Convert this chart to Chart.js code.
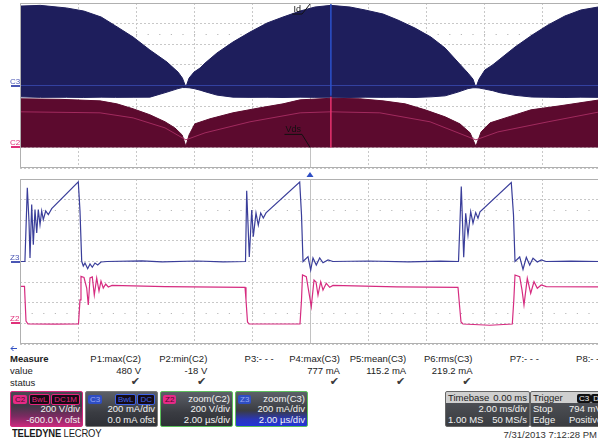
<!DOCTYPE html>
<html>
<head>
<meta charset="utf-8">
<script src="https://cdn.jsdelivr.net/npm/chart.js@4/dist/chart.umd.min.js"></script>
<style>
  html, body { margin: 0; padding: 0; background: #fff; overflow: hidden; }
  #wrap { position: relative; width: 598px; height: 442px; overflow: hidden;
          font-family: "Liberation Sans", Arial, sans-serif; color: #222; }
  canvas { position: absolute; left: 0; }
  #ov { top: 0; }
  #zm { top: 172px; }
  .t { position: absolute; font-size: 9.5px; line-height: 11px; white-space: nowrap; }
  .r { text-align: right; }
  .b { font-weight: bold; }
  .box { position: absolute; top: 391px; height: 34px; width: 71px; border: 1px solid #777;
         border-radius: 2px; overflow: hidden; color: #f2f2f2; font-size: 9.5px; }
  .box .row { position: absolute; left: 2px; right: 2px; height: 11px; line-height: 11px; white-space: nowrap; }
  .badge { display: inline-block; font-size: 8px; line-height: 9px; padding: 0 2px; border-radius: 2px; }
  .sp { position: absolute; right: 0; }
  .lf { position: absolute; left: 0; }
</style>
</head>
<body>
<div id="wrap">
  <canvas id="ov" width="602" height="172"></canvas>
  <canvas id="zm" width="602" height="180"></canvas>
  <div id="panel"></div>
</div>
<script>
// ---- Overview acquisition, 2 ms/div (time in ms) ----
// Id (C3) envelope, mA
const ovTimeId = [-10, -9.3, -8.4, -7.8, -7.2, -6.7, -6.1, -5.52, -4.93, -4.55, -4.4, -4.28, -4.17, -4.0,
  -3.79, -3.62, -3.21, -2.66, -2.07, -1.48, -0.93, -0.34, 0.17, 0.72, 1.38, 1.9, 2.52, 3.03, 3.62, 4.17,
  4.66, 5.1, 5.45, 5.62, 5.72, 5.83, 6.03, 6.3, 6.55, 7.07, 7.66, 8.21, 8.79, 9.34, 9.93, 10];
const ovIdHigh = [770, 777, 752, 722, 664, 577, 470, 344, 227, 130, 72, -16, 72, 130,
  170, 217, 315, 421, 518, 606, 664, 722, 761, 777, 761, 732, 693, 635, 557, 470,
  363, 227, 120, 62, -20, 62, 150, 200, 256, 373, 489, 587, 674, 732, 761, 765];
const ovIdLow = [-110, -115, -114, -116, -113, -115, -114, -113, -64, -30, -20, -20, -22, -30,
  -45, -60, -93, -113, -115, -114, -116, -113, -115, -114, -116, -113, -115, -114, -116, -110,
  -100, -64, -30, -22, -22, -24, -35, -50, -70, -95, -112, -114, -116, -113, -115, -114];
// Vds (C2) envelope, V
const ovTimeVds = [-10, -8.62, -7.24, -6.66, -6.1, -5.52, -5.0, -4.66, -4.41, -4.28, -4.17, -3.97, -3.45,
  -2.66, -1.72, -0.93, -0.34, 0.72, 1.72, 2.52, 3.28, 3.97, 4.66, 5.17, 5.52, 5.72, 5.9, 6.21, 6.9,
  7.62, 8.62, 9.31, 10];
const ovVdsHigh = [471, 466, 451, 422, 374, 316, 248, 189, 121, 10, 121, 228, 277,
  335, 384, 422, 461, 476, 471, 451, 422, 364, 296, 228, 141, 10, 150, 238, 300,
  364, 403, 432, 461];
// Vds averaged trace, V
const ovTimeVdsAvg = [-10, -7.24, -6.1, -5.0, -4.28, -3.62, -2.07, -0.34, 0.72, 2.41, 4.14, 5.72, 6.48, 8.21, 10];
const ovVdsAvg = [345, 335, 286, 189, 73, 141, 248, 335, 345, 335, 248, 73, 150, 248, 345];
// Cursor position, ms
const cursorTime = 0.72;

// ---- Zoom traces, 2 us/div (time in us) ----
const zmTimeId = [0, 0.17, 0.252, 0.31, 0.345, 0.403, 0.459, 0.517, 0.576, 0.631, 0.69, 0.748, 0.803, 0.886,
  0.976, 1.093, 2.01, 2.069, 2.128, 2.183, 2.241, 2.334, 2.414, 2.493, 2.586, 2.679, 2.793, 3.0, 4.2, 4.9,
  6.1, 7.0, 7.776, 7.817, 7.907, 7.99, 8.045, 8.138, 8.217, 8.3, 8.39, 8.483, 9.645, 9.707, 9.759, 9.931,
  10.024, 10.103, 10.217, 10.334, 10.448, 10.621, 10.79, 12.0, 13.4, 14.5, 15.121, 15.217, 15.3, 15.369,
  15.448, 15.541, 15.621, 15.714, 15.793, 15.862, 16.941, 17.017, 17.069, 17.231, 17.345, 17.459, 17.576,
  17.69, 17.838, 17.976, 18.138, 19.0, 20];
const zmId = [0, 0, 714, 393, 34, 552, 163, 503, 277, 503, 357, 490, 406, 490,
  454, 513, 772, 490, 2, -44, -15, -70, -24, -56, -15, -34, -5, 0, 6, -4,
  5, -3, 0, 687, 44, 500, 241, 471, 354, 471, 422, 471, 770, 452, 0, 47,
  -83, 34, -34, 34, -12, 15, 0, 5, -4, 4, 0, 726, 41, 468,
  257, 484, 371, 474, 419, 481, 765, 452, 0, 44, -76, 41, -34,
  31, -5, 15, 0, 4, 0];
const zmTimeVds = [0, 0.155, 0.207, 0.276, 1.2, 2.017, 2.069, 2.103, 2.207, 2.3, 2.355, 2.414, 2.493, 2.562,
  2.645, 2.724, 2.793, 2.872, 2.955, 3.045, 3.172, 5.0, 7.759, 7.793, 7.845, 7.897, 9.655, 9.707, 9.741,
  9.872, 9.948, 10.045, 10.138, 10.207, 10.276, 10.369, 10.448, 10.562, 10.679, 10.793, 13.0, 15.103,
  15.155, 15.207, 15.276, 16.2, 16.976, 17.028, 17.069, 17.231, 17.31, 17.379, 17.493, 17.61, 17.724,
  17.838, 17.976, 18.148, 20];
const zmVds = [358, 358, 23, -6, -8, -6, 227, 455, 445, 343, 178, 440, 450, 275,
  440, 314, 411, 343, 382, 353, 368, 356, 350, 227, 14, -6, -6, 227, 469,
  453, 324, 162, 421, 402, 275, 404, 324, 389, 350, 368, 354, 350,
  178, 14, -6, -18, -6, 227, 469, 453, 324, 178, 437, 292, 404,
  340, 372, 356, 353];

// ---- Measurement table ----
const measNames = ['P1:max(C2)', 'P2:min(C2)', 'P3:- - -', 'P4:max(C3)', 'P5:mean(C3)', 'P6:rms(C3)', 'P7:- - -', 'P8:- - -'];
const measValues = ['480 V', '-18 V', '', '777 mA', '115.2 mA', '219.2 mA', '', ''];
const measStatus = [true, true, false, true, true, true, false, false];

const pts = (xs, ys) => xs.map((x, i) => ({ x, y: ys[i] }));

// Graticule, channel markers and trace tags
const scopePlugin = {
  id: 'scope',
  beforeDatasetsDraw(chart) {
    const { ctx, chartArea: a, scales } = chart;
    const y = scales.y;
    ctx.save();
    // sparse dot rows at +/- 2.5 div
    ctx.strokeStyle = '#b8b8b8';
    ctx.lineWidth = 1;
    ctx.setLineDash([1.2, 10.4]);
    [500, -500].forEach(v => {
      const py = Math.round(y.getPixelForValue(v)) + 0.5;
      ctx.beginPath(); ctx.moveTo(a.left, py); ctx.lineTo(a.right, py); ctx.stroke();
    });
    ctx.setLineDash([]);
    // centre vertical line
    const cx = Math.round(scales.x.getPixelForValue((scales.x.min + scales.x.max) / 2)) + 0.5;
    ctx.strokeStyle = '#c2c2c2';
    ctx.beginPath(); ctx.moveTo(cx, a.top); ctx.lineTo(cx, a.bottom); ctx.stroke();
    ctx.restore();
  },
  afterDatasetsDraw(chart, args, opts) {
    const { ctx, chartArea: a, scales } = chart;
    ctx.save();
    // frame
    ctx.strokeStyle = '#b0b0b0';
    ctx.lineWidth = 1;
    ctx.beginPath();
    ctx.moveTo(a.right, a.top + 0.5); ctx.lineTo(a.left + 0.5, a.top + 0.5);
    ctx.lineTo(a.left + 0.5, a.bottom - 0.5); ctx.lineTo(a.right, a.bottom - 0.5);
    ctx.stroke();
    // channel labels
    (opts.labels || []).forEach(l => {
      const py = Math.round(scales[l.axis].getPixelForValue(0));
      ctx.fillStyle = l.color;
      ctx.font = '8px "Liberation Sans", Arial, sans-serif';
      ctx.textAlign = 'left';
      ctx.textBaseline = 'alphabetic';
      ctx.fillText(l.text, a.left - 10, py - 2);
      ctx.strokeStyle = l.color;
      ctx.lineWidth = 2;
      ctx.beginPath(); ctx.moveTo(a.left - 9, py); ctx.lineTo(a.left, py); ctx.stroke();
    });
    // trace tags with leader lines
    (opts.tags || []).forEach(tg => {
      const tx = scales.x.getPixelForValue(tg.at);
      const ty = scales[tg.axis].getPixelForValue(tg.value);
      const base = ty + tg.dy;
      ctx.font = '9px "Liberation Sans", Arial, sans-serif';
      ctx.fillStyle = '#111';
      ctx.textAlign = 'right';
      const w = ctx.measureText(tg.text).width;
      ctx.fillText(tg.text, tx - 9, base);
      ctx.strokeStyle = '#111';
      ctx.lineWidth = 1;
      ctx.beginPath();
      ctx.moveTo(tx - 10 - w, base + 2); ctx.lineTo(tx - 8, base + 2); ctx.lineTo(tx, ty);
      ctx.stroke();
    });
    // trigger marker / zoom arrow
    if (opts.trigger) {
      const tx = scales.x.getPixelForValue(opts.trigger);
      ctx.fillStyle = '#2f4fc4';
      ctx.beginPath();
      ctx.moveTo(tx - 3.5, a.top - 2); ctx.lineTo(tx + 3.5, a.top - 2); ctx.lineTo(tx, a.top - 7);
      ctx.closePath(); ctx.fill();
    }
    if (opts.arrow) {
      ctx.strokeStyle = '#2f4fc4';
      ctx.lineWidth = 1;
      const ay = a.bottom + 4.5, ax = a.left - 5;
      ctx.beginPath();
      ctx.moveTo(ax - 4, ay); ctx.lineTo(ax + 2, ay);
      ctx.moveTo(ax - 1.5, ay - 2.5); ctx.lineTo(ax - 4, ay); ctx.lineTo(ax - 1.5, ay + 2.5);
      ctx.stroke();
    }
    ctx.restore();
  }
};

function scopeScales(xMin, xMax) {
  const gridCommon = { color: '#c8c8c8', lineWidth: 1, drawTicks: false };
  return {
    x: { type: 'linear', min: xMin, max: xMax, ticks: { display: false, stepSize: (xMax - xMin) / 10 },
         grid: gridCommon, border: { display: false, dash: [2, 2] } },
    y: { type: 'linear', min: -800, max: 800, ticks: { display: false, stepSize: 200 },
         grid: gridCommon, border: { display: false, dash: [2, 2] } },
    v: { type: 'linear', min: -200, max: 1400, display: false }
  };
}

const baseOpts = {
  responsive: false, animation: false, devicePixelRatio: 1,
  events: [],
  plugins: { legend: { display: false }, tooltip: { enabled: false } },
  elements: { point: { radius: 0 }, line: { tension: 0 } }
};

// Overview chart
new Chart(document.getElementById('ov'), {
  type: 'line',
  data: {
    datasets: [
      { label: 'Id', data: pts(ovTimeId, ovIdHigh), yAxisID: 'y', borderColor: '#1e1e5c', borderWidth: 1,
        backgroundColor: '#1e1e5c', fill: '+1', order: 10 },
      { label: 'Id low', data: pts(ovTimeId, ovIdLow), yAxisID: 'y', borderColor: '#1e1e5c', borderWidth: 1,
        fill: false, order: 10 },
      { label: 'Vds', data: pts(ovTimeVds, ovVdsHigh), yAxisID: 'v', borderColor: '#5c0a2e', borderWidth: 1,
        backgroundColor: '#5c0a2e', fill: { value: 0 }, order: 9 },
      { label: 'Vds avg', data: pts(ovTimeVdsAvg, ovVdsAvg), yAxisID: 'v', borderColor: '#a12a5e',
        borderWidth: 1, fill: false, order: 5 },
      { label: 'Id zero', data: pts([-10, 10], [0, 0]), yAxisID: 'y', borderColor: '#3341a0',
        borderWidth: 1, fill: false, order: 5 },
      { label: 'Cursor Id', data: pts([cursorTime, cursorTime], [800, -100]), yAxisID: 'y',
        borderColor: '#2c52cc', borderWidth: 1.5, fill: false, order: 1 },
      { label: 'Cursor Vds', data: pts([cursorTime, cursorTime], [490, 0]), yAxisID: 'v',
        borderColor: '#e8336f', borderWidth: 1.5, fill: false, order: 1 }
    ]
  },
  options: Object.assign({}, baseOpts, {
    layout: { padding: { left: 20, top: 3, right: 2, bottom: 4 } },
    scales: scopeScales(-10, 10),
    plugins: Object.assign({}, baseOpts.plugins, {
      scope: {
        labels: [{ text: 'C3', axis: 'y', color: '#4a56b4' }, { text: 'C2', axis: 'v', color: '#e0307a' }],
        tags: [{ text: 'Id', axis: 'y', value: 790, at: 0, dy: 8 }, { text: 'Vds', axis: 'v', value: 0, at: 0, dy: -15 }]
      }
    })
  }),
  plugins: [scopePlugin]
});

// Zoom chart
new Chart(document.getElementById('zm'), {
  type: 'line',
  data: {
    datasets: [
      { label: 'Z3', data: pts(zmTimeId, zmId), yAxisID: 'y', borderColor: '#3a3e9a', borderWidth: 1.2, fill: false },
      { label: 'Z2', data: pts(zmTimeVds, zmVds), yAxisID: 'v', borderColor: '#d62c80', borderWidth: 1.2, fill: false }
    ]
  },
  options: Object.assign({}, baseOpts, {
    layout: { padding: { left: 20, top: 7, right: 2, bottom: 8 } },
    scales: scopeScales(0, 20),
    plugins: Object.assign({}, baseOpts.plugins, {
      scope: {
        labels: [{ text: 'Z3', axis: 'y', color: '#4a56b4' }, { text: 'Z2', axis: 'v', color: '#e0307a' }],
        trigger: 10, arrow: true
      }
    })
  }),
  plugins: [scopePlugin]
});

// ---- Status panel ----
const panel = document.getElementById('panel');
function add(html) { panel.insertAdjacentHTML('beforeend', html); }
add('<div class="t b" style="left:10px;top:353px">Measure</div>');
add('<div class="t" style="left:10px;top:365px">value</div>');
add('<div class="t" style="left:10px;top:377px">status</div>');
measNames.forEach((n, i) => {
  const right = 141 + i * 66.3;
  const rr = (598 - right).toFixed(1);
  add(`<div class="t r" style="right:${rr}px;top:353px">${n}</div>`);
  if (measValues[i]) add(`<div class="t r" style="right:${rr}px;top:365px">${measValues[i]}</div>`);
  if (measStatus[i]) add(`<div class="t r" style="right:${(598 - right + 1).toFixed(1)}px;top:376px;color:#3a3a3a;font-family:'DejaVu Sans';font-size:11px;line-height:12px">&#10004;</div>`);
});

function chanBox(left, border, bg, badge, badgeBg, badgeFg, tags, tagFg, lines) {
  const tagHtml = tags.map(t => `<span class="badge" style="background:#140a14;color:${tagFg};border:1px solid ${tagFg};margin-left:1px">${t}</span>`).join('');
  add(`<div class="box" style="left:${left}px;border-color:${border};background:${bg}">
    <div class="row" style="top:1px"><span class="badge" style="background:${badgeBg};color:${badgeFg}">${badge}</span><span class="sp">${tagHtml}</span></div>
    <div class="row r" style="top:11px">${lines[0]}</div>
    <div class="row r" style="top:22px">${lines[1]}</div></div>`);
}
chanBox(10, '#d42a7c', 'linear-gradient(180deg,#4c4852 0%,#3e3a46 40%,#7c2a62 72%,#c62a7c 100%)',
  'C2', '#e62a86', '#4a0c2c', ['BwL', 'DC1M'], '#e4247e', ['200 V/div', '-600.0 V ofst']);
chanBox(85, '#7a7a7a', 'linear-gradient(180deg,#5c6068 0%,#3a3c42 60%,#2e3036 100%)',
  'C3', '#2f4ec4', '#9aa8f0', ['BwL', 'DC'], '#3e62e8', ['200 mA/div', '0.0 mA ofst']);
add(`<div class="box" style="left:160px;border-color:#5cc05c;background:linear-gradient(180deg,#5c6068 0%,#3a3c42 60%,#2e3036 100%)">
  <div class="row" style="top:1px"><span class="badge" style="background:#e62a86;color:#4a0c2c">Z2</span><span class="sp">zoom(C2)</span></div>
  <div class="row r" style="top:11px">200 V/div</div><div class="row r" style="top:22px">2.00 &micro;s/div</div></div>`);
add(`<div class="box" style="left:235px;border-color:#5cc05c;background:linear-gradient(180deg,#5c6068 0%,#3a3c42 55%,#2a36b8 80%,#2234d8 100%)">
  <div class="row" style="top:1px"><span class="badge" style="background:#2f4ec4;color:#9aa8f0">Z3</span><span class="sp">zoom(C3)</span></div>
  <div class="row r" style="top:11px">200 mA/div</div><div class="row r" style="top:22px">2.00 &micro;s/div</div></div>`);
add(`<div class="box" style="left:445px;width:83px;border-color:#666;background:linear-gradient(180deg,#55585e 0%,#3a3c40 100%)">
  <div class="row" style="top:0;left:0;right:0;padding:0 2px;background:#cfcfcf;color:#222"><span class="lf" style="left:2px">Timebase</span><span class="sp" style="right:2px">0.00 ms</span></div>
  <div class="row r" style="top:11px">2.00 ms/div</div>
  <div class="row" style="top:22px"><span class="lf">1.00 MS</span><span class="sp">50 MS/s</span></div></div>`);
add(`<div class="box" style="left:530px;width:80px;border-color:#666;background:linear-gradient(180deg,#55585e 0%,#3a3c40 100%)">
  <div class="row" style="top:0;left:0;right:0;background:#cfcfcf;color:#222"><span class="lf" style="left:2px">Trigger</span><span class="lf" style="left:46px"><span class="badge" style="background:#111;color:#eee">C3</span><span class="badge" style="background:#111;color:#eee">DC</span></span></div>
  <div class="row" style="top:11px"><span class="lf">Stop</span><span class="lf" style="left:36px">794 mV</span></div>
  <div class="row" style="top:22px"><span class="lf">Edge</span><span class="lf" style="left:36px">Positive</span></div></div>`);
add('<div class="t" style="left:12px;top:428px;font-size:11px;transform:scaleX(0.86);transform-origin:left;letter-spacing:-0.2px;color:#1a1a1a"><b>TELEDYNE</b> LECROY</div>');
add('<div class="t r" style="right:1px;top:429px;color:#333">7/31/2013 7:12:28 PM</div>');
</script>
</body>
</html>
